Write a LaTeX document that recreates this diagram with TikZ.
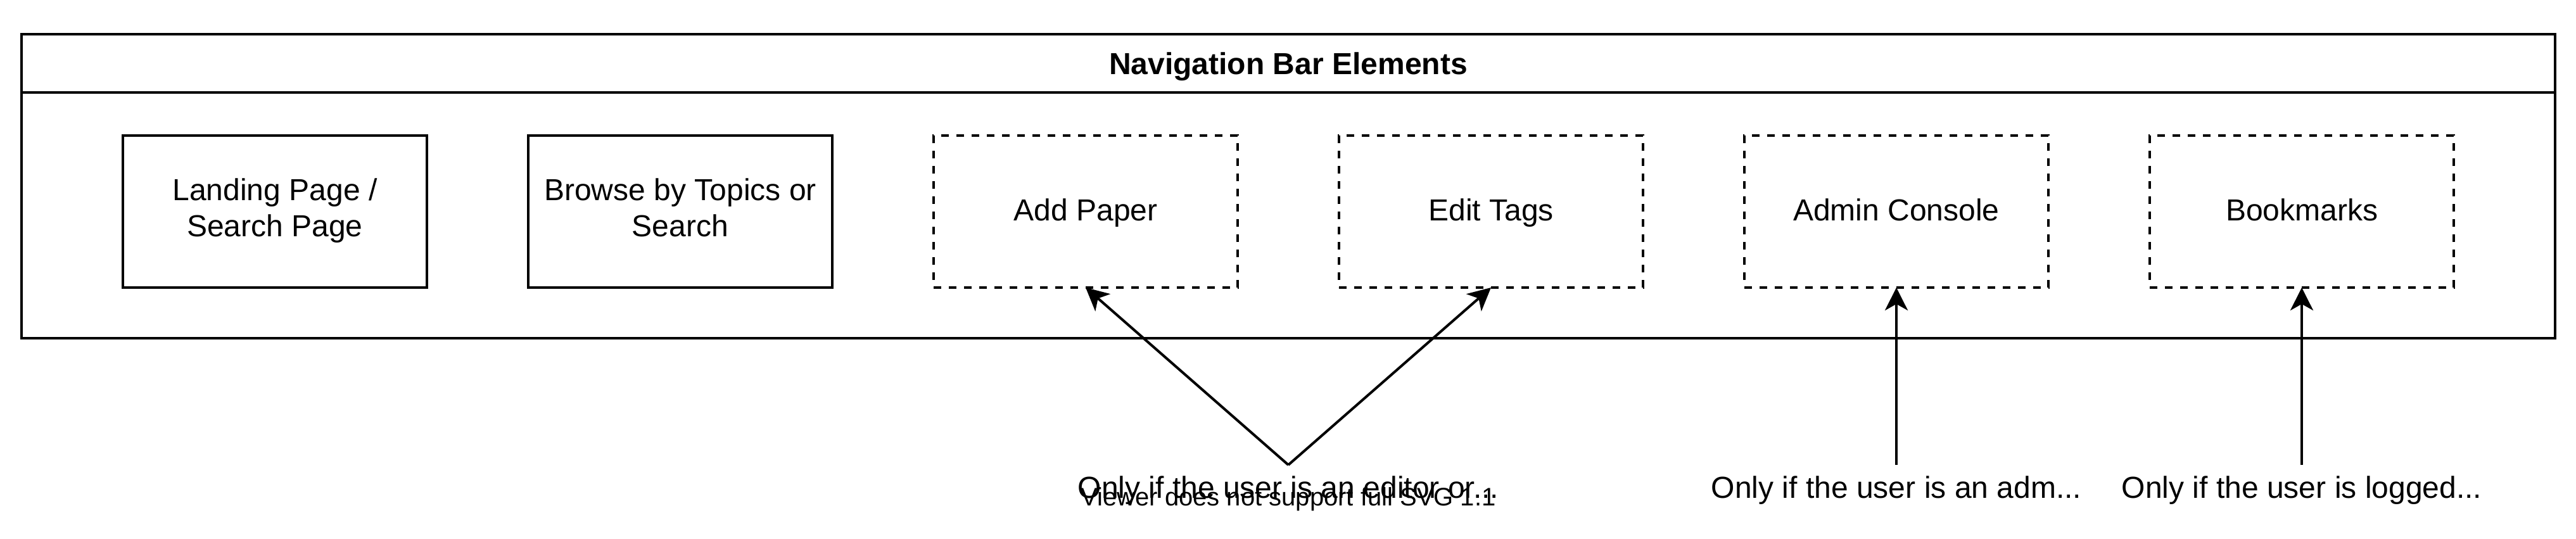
\documentclass[tikz,border=0pt]{standalone}
\usepackage{fontspec}
\setmainfont{Liberation Sans}
\usepackage{tikz}
\usetikzlibrary{positioning, arrows.meta}

\begin{document}
\begin{tikzpicture}[x=1pt, y=1pt, line width=1pt,
    navitem/.style={draw, minimum width=120pt, minimum height=60pt, inner sep=0pt, outer sep=0pt,
      align=center, font=\fontsize{12}{14.4}\selectfont, text height=8.6pt, text depth=1.6pt},
    twoline/.style={text height=23pt, text depth=3.2pt},
    optitem/.style={navitem, dash pattern=on 3pt off 3pt},
    note/.style={minimum height=20pt, inner sep=0pt, outer sep=0pt, font=\fontsize{12}{14.4}\selectfont},
    cond/.style={-{Stealth[length=9pt, width=9pt, inset=2.5pt]}}]
  \useasboundingbox (0,0) rectangle (1016.75,-212.5);

  % Navigation bar
  \draw (8.5,-13.5) rectangle (1008.5,-133.5);
  \draw (8.5,-36.5) -- (1008.5,-36.5);
  \node[font=\fontsize{12}{14.4}\selectfont\bfseries, anchor=base] (title) at (508.5,-29.3) {Navigation Bar Elements};

  % Elements
  \node[navitem, twoline] (landing) at (108.5,-83.5) {Landing Page /\\Search Page};
  \node[navitem, twoline, right=40pt of landing] (browse) {Browse by Topics or\\Search};
  \node[optitem, right=40pt of browse] (addpaper) {Add Paper};
  \node[optitem, right=40pt of addpaper] (edittags) {Edit Tags};
  \node[optitem, right=40pt of edittags] (admin) {Admin Console};
  \node[optitem, right=40pt of admin] (bookmarks) {Bookmarks};

  % Conditions
  \node[note] (editornote) at (508.5,-193.5) {Only if the user is an editor or...};
  \node[note, below=70pt of admin] (adminnote) {Only if the user is an adm...};
  \node[note, below=70pt of bookmarks] (loggednote) {Only if the user is logged...};
  \draw[cond] (editornote.north) -- (addpaper.south);
  \draw[cond] (editornote.north) -- (edittags.south);
  \draw[cond] (adminnote.north) -- (admin.south);
  \draw[cond] (loggednote.north) -- (bookmarks.south);

  \node[font=\fontsize{10}{12}\selectfont, anchor=base] (svgnote) at (508.5,-199.5) {Viewer does not support full SVG 1.1};
\end{tikzpicture}
\end{document}
